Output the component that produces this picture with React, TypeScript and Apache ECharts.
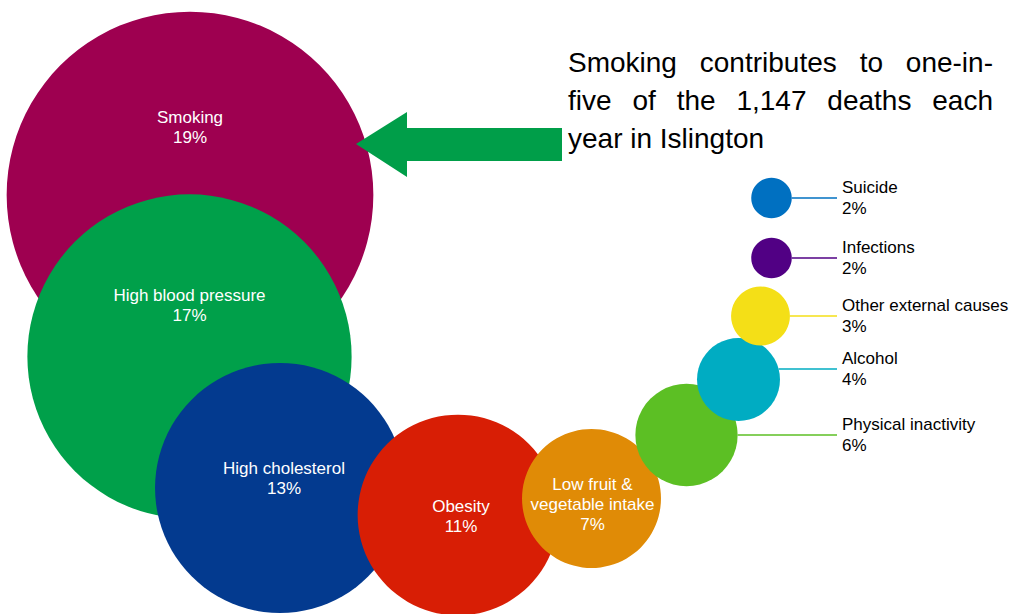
import React, { useEffect, useRef } from "react";
import * as echarts from "echarts";

// ---- data ----
const causes = [
  "Smoking",
  "High blood pressure",
  "High cholesterol",
  "Obesity",
  "Low fruit &\nvegetable intake",
  "Physical inactivity",
  "Alcohol",
  "Other external causes",
  "Infections",
  "Suicide",
];
const sharePct = [19, 17, 13, 11, 7, 6, 4, 3, 2, 2];
// bubble size values (width-proportional)
const bubbleSize = [19.0, 16.8, 12.95, 10.4, 7.2, 5.3, 4.3, 3.05, 2.1, 2.1];
// layout coordinates of bubble centres
const layoutX = [190, 189.5, 280, 458, 591.5, 686.5, 738.5, 760.5, 771.5, 771.5];
const layoutY = [195, 356.5, 488, 515, 498.5, 435, 379.5, 316, 258, 198];
const noteLines = [
  "Smoking contributes to one-in-",
  "five of the 1,147 deaths each",
  "year in Islington",
];

// ---- styles ----
const colors = [
  "#9E0050",
  "#00A04A",
  "#033A8F",
  "#D81E05",
  "#E08B06",
  "#5CBF24",
  "#00ACC2",
  "#F4DF17",
  "#510084",
  "#0070C1",
];
const insideCount = 5;
const labelShift: [number, number][] = [
  [0, -68],
  [0, -51],
  [4, -10],
  [3, 1],
  [1, 6],
];
const calloutDy = [0, -10.5, 0, 0, 0];
const SIZE_K = 19.3;
const CALLOUT_X = 842;
const FONT = "'Liberation Sans', Arial, sans-serif";

export default function App() {
  const ref = useRef<HTMLDivElement>(null);
  useEffect(() => {
    if (!ref.current) return;
    const chart = echarts.init(ref.current, undefined, { renderer: "svg" });

    // justified annotation text
    const canvas = document.createElement("canvas");
    const ctx = canvas.getContext("2d")!;
    const fontSize = 28;
    ctx.font = `${fontSize}px 'Liberation Sans'`;
    const noteLeft = 568;
    const noteRight = 993;
    const noteTop = 62;
    const notePitch = 38;
    const noteEls: any[] = [];
    noteLines.forEach((line, li) => {
      const y = noteTop + li * notePitch;
      const words = line.split(" ");
      const justify = li < noteLines.length - 1;
      if (!justify) {
        noteEls.push({
          type: "text",
          style: {
            text: line,
            x: noteLeft,
            y,
            fill: "#000",
            fontSize,
            fontFamily: FONT,
            align: "left",
            verticalAlign: "middle",
          },
        });
        return;
      }
      const widths = words.map((w) => ctx.measureText(w).width);
      const total = widths.reduce((a, b) => a + b, 0);
      const gap = (noteRight - noteLeft - total) / (words.length - 1);
      let x = noteLeft;
      words.forEach((w, wi) => {
        noteEls.push({
          type: "text",
          style: {
            text: w,
            x,
            y,
            fill: "#000",
            fontSize,
            fontFamily: FONT,
            align: "left",
            verticalAlign: "middle",
          },
        });
        x += widths[wi] + gap;
      });
    });

    const bubbleData = causes.map((name, i) => ({
      name,
      value: [layoutX[i], layoutY[i], bubbleSize[i], sharePct[i]],
      itemStyle: { color: colors[i], opacity: 1 },
      label:
        i < insideCount
          ? {
              show: true,
              position: "inside",
              offset: labelShift[i],
              formatter: `${name}\n${sharePct[i]}%`,
              color: "#fff",
              fontSize: 17,
              lineHeight: 20,
              fontFamily: FONT,
            }
          : { show: false },
    }));

    const calloutIdx = causes.map((_, i) => i).filter((i) => i >= insideCount);
    const calloutData = calloutIdx.map((i) => ({
      name: causes[i],
      value: [layoutX[i], layoutY[i], bubbleSize[i], sharePct[i]],
    }));

    chart.setOption({
      animation: false,
      grid: { left: 0, right: 0, top: 0, bottom: 0 },
      xAxis: { type: "value", min: 0, max: 1013, show: false },
      yAxis: { type: "value", min: 0, max: 614, inverse: true, show: false },
      series: [
        {
          type: "scatter",
          data: bubbleData,
          symbol: "circle",
          symbolSize: (val: number[]) => val[2] * SIZE_K,
          itemStyle: { opacity: 1 },
          emphasis: { disabled: true },
          silent: true,
        },
        {
          type: "custom",
          coordinateSystem: "cartesian2d",
          data: calloutData,
          silent: true,
          renderItem: (params: any, api: any) => {
            const k = params.dataIndex;
            const i = calloutIdx[k];
            const c = api.coord([api.value(0), api.value(1)]);
            const r = (api.value(2) * SIZE_K) / 2;
            const dy = calloutDy[k];
            const y = c[1] + dy;
            const x0 = c[0] + Math.sqrt(Math.max(r * r - dy * dy, 0));
            return {
              type: "group",
              children: [
                {
                  type: "line",
                  shape: { x1: x0, y1: y, x2: CALLOUT_X - 5, y2: y },
                  style: { stroke: colors[i], lineWidth: 1.5 },
                },
                {
                  type: "text",
                  style: {
                    text: `${causes[i]}\n${api.value(3)}%`,
                    x: CALLOUT_X,
                    y,
                    fill: "#000",
                    fontSize: 17,
                    lineHeight: 21,
                    fontFamily: FONT,
                    align: "left",
                    verticalAlign: "middle",
                  },
                },
              ],
            };
          },
        },
      ],
      graphic: [
        {
          type: "polygon",
          shape: {
            points: [
              [356, 144],
              [407, 112],
              [407, 128],
              [562, 128],
              [562, 161],
              [407, 161],
              [407, 177],
            ],
          },
          style: { fill: "#009E49" },
          z: 10,
        },
        ...noteEls,
      ],
    });
    return () => chart.dispose();
  }, []);
  return (
    <div
      ref={ref}
      style={{ position: "absolute", left: 0, top: 0, width: 1013, height: 614 }}
    />
  );
}
